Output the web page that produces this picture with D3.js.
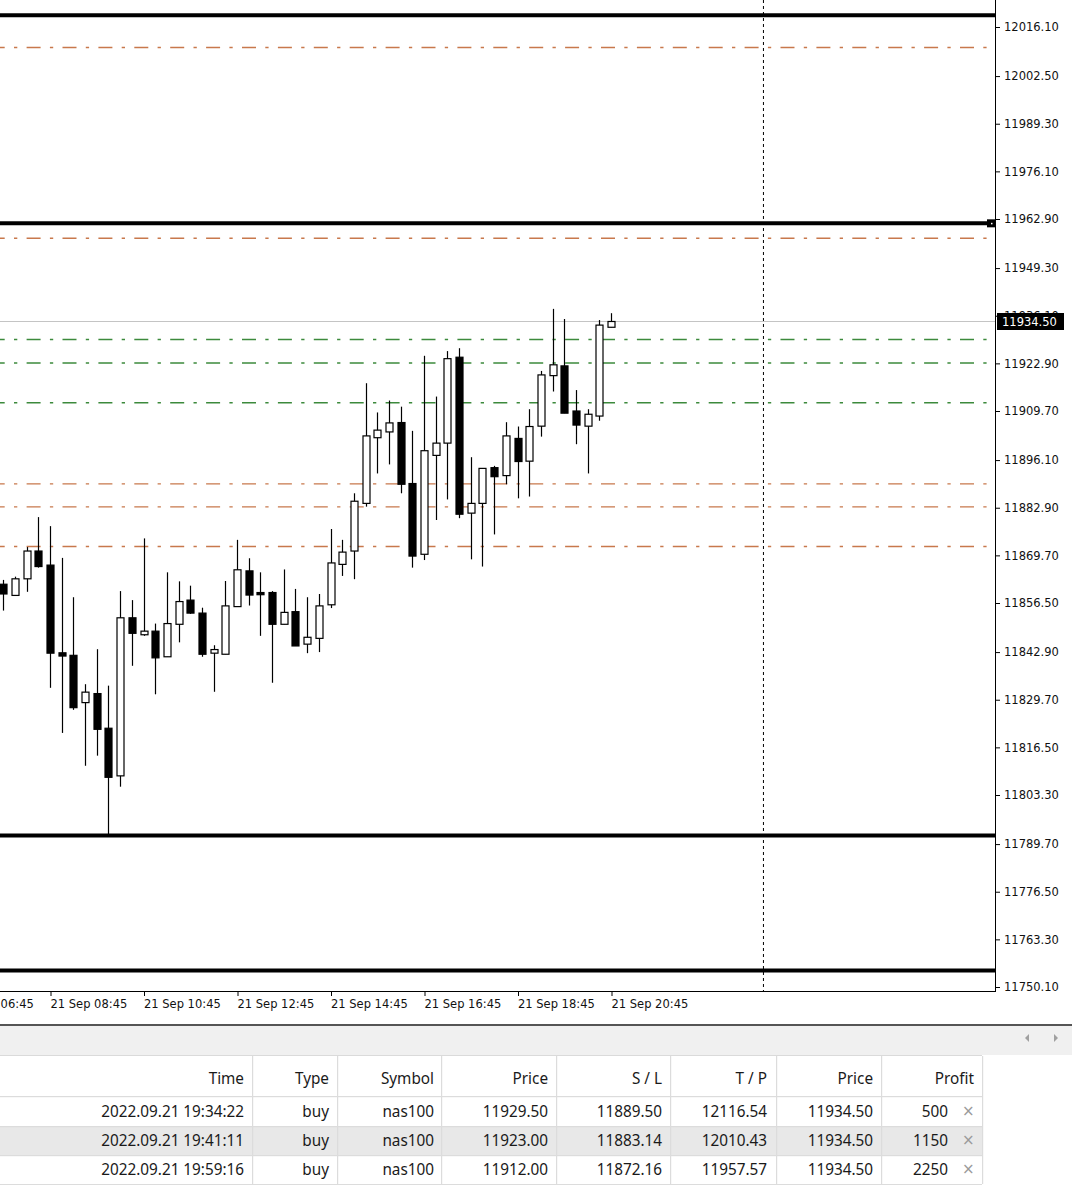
<!DOCTYPE html>
<html>
<head>
<meta charset="utf-8">
<script src="https://cdn.jsdelivr.net/npm/d3@7"></script>
<style>
	body { margin: 0; background: white; }
	svg text { font-family: "DejaVu Sans", sans-serif; }
</style>
</head>
<body>
<svg id="chart" width="1072" height="1185"></svg>
<script>
// M15 candles, 21 Sep
var candleTimes = ["07:45", "08:00", "08:15", "08:30", "08:45", "09:00", "09:15", "09:30", "09:45", "10:00",
	"10:15", "10:30", "10:45", "11:00", "11:15", "11:30", "11:45", "12:00", "12:15", "12:30",
	"12:45", "13:00", "13:15", "13:30", "13:45", "14:00", "14:15", "14:30", "14:45", "15:00",
	"15:15", "15:30", "15:45", "16:00", "16:15", "16:30", "16:45", "17:00", "17:15", "17:30",
	"17:45", "18:00", "18:15", "18:30", "18:45", "19:00", "19:15", "19:30", "19:45", "20:00",
	"20:15", "20:30", "20:45"];
var opens = [11861.7, 11858.6, 11863.2, 11870.9, 11867.0, 11842.7, 11842.0, 11828.9, 11831.4, 11821.8,
	11808.6, 11852.4, 11847.7, 11848.7, 11841.6, 11850.6, 11857.3, 11853.7, 11842.6, 11842.3,
	11855.5, 11865.4, 11859.4, 11859.4, 11850.6, 11854.1, 11845.1, 11846.7, 11856.0, 11867.2,
	11870.9, 11884.1, 11902.3, 11903.9, 11906.5, 11889.6, 11870.0, 11897.4, 11900.8, 11924.6,
	11881.4, 11884.1, 11894.0, 11891.8, 11902.1, 11895.8, 11905.5, 11919.5, 11922.2, 11909.7,
	11905.5, 11908.3, 11932.9];
var highs = [11862.9, 11863.8, 11872.0, 11880.3, 11877.8, 11869.0, 11858.1, 11834.0, 11843.7, 11833.6,
	11859.8, 11857.3, 11874.4, 11850.8, 11865.0, 11862.5, 11861.3, 11855.2, 11844.8, 11862.6,
	11874.0, 11868.9, 11865.0, 11859.8, 11865.8, 11860.4, 11858.1, 11859.0, 11877.0, 11874.0,
	11886.9, 11917.4, 11909.3, 11912.6, 11910.9, 11904.2, 11925.0, 11913.7, 11926.3, 11927.1,
	11896.9, 11893.8, 11894.5, 11906.6, 11905.4, 11910.2, 11920.8, 11938.0, 11935.2, 11915.5,
	11910.2, 11934.9, 11936.8];
var lows = [11854.4, 11858.6, 11859.6, 11866.3, 11833.0, 11820.5, 11826.9, 11811.4, 11814.2, 11791.9,
	11805.6, 11839.1, 11847.4, 11831.2, 11841.6, 11845.6, 11853.5, 11841.6, 11831.9, 11842.3,
	11855.5, 11855.8, 11847.4, 11834.4, 11850.6, 11844.6, 11842.6, 11842.9, 11855.1, 11864.0,
	11863.1, 11883.2, 11892.4, 11894.9, 11886.9, 11866.3, 11868.4, 11879.5, 11885.2, 11880.0,
	11868.6, 11866.6, 11875.5, 11889.4, 11885.5, 11886.0, 11902.6, 11915.1, 11909.1, 11900.5,
	11892.4, 11907.0, 11932.9];
var closes = [11859.0, 11863.2, 11870.9, 11866.6, 11842.6, 11841.8, 11827.5, 11831.8, 11821.5, 11808.2,
	11852.4, 11848.1, 11848.7, 11841.3, 11850.8, 11856.9, 11853.7, 11842.3, 11843.6, 11855.7,
	11865.7, 11858.7, 11858.8, 11850.6, 11853.9, 11844.6, 11847.0, 11855.7, 11867.6, 11870.6,
	11884.7, 11902.8, 11904.4, 11906.4, 11889.4, 11869.5, 11898.7, 11900.8, 11924.2, 11881.1,
	11884.1, 11893.8, 11891.5, 11902.8, 11895.7, 11905.4, 11919.7, 11922.5, 11909.1, 11905.8,
	11908.8, 11933.5, 11934.5];

var priceTicks = [12016.10, 12002.50, 11989.30, 11976.10, 11962.90, 11949.30, 11936.10, 11922.90,
	11909.70, 11896.10, 11882.90, 11869.70, 11856.50, 11842.90, 11829.70, 11816.50, 11803.30,
	11789.70, 11776.50, 11763.30, 11750.10];
var timeTicks = ["21 Sep 06:45", "21 Sep 08:45", "21 Sep 10:45", "21 Sep 12:45", "21 Sep 14:45",
	"21 Sep 16:45", "21 Sep 18:45", "21 Sep 20:45"];
var daySeparator = "22 Sep 00:00";
var levelLines = [12019.35, 11961.7, 11792.1, 11754.7];
var bidPrice = 11934.50;

// open trades
var tradeTimes = ["2022.09.21 19:34:22", "2022.09.21 19:41:11", "2022.09.21 19:59:16"];
var tradeTypes = ["buy", "buy", "buy"];
var tradeSymbols = ["nas100", "nas100", "nas100"];
var openPrices = [11929.50, 11923.00, 11912.00];
var stopLosses = [11889.50, 11883.14, 11872.16];
var takeProfits = [12116.54, 12010.43, 11957.57];
var currentPrices = [11934.50, 11934.50, 11934.50];
var profits = [500, 1150, 2250];
var headers = ["Time", "Type", "Symbol", "Price", "S / L", "T / P", "Price", "Profit"];

var svg = d3.select("#chart"),
	plotW = 996,
	plotH = 991;

var parseTime = d3.timeParse("%d %b %H:%M"),
	fmtTime = d3.timeFormat("%d %b %H:%M"),
	fmtPrice = d3.format(".2f");

var x = d3.scaleTime()
	.domain([parseTime("21 Sep 08:45"), parseTime("21 Sep 20:45")])
	.range([50, 611]);

var y = d3.scaleLinear()
	.domain([11750.1, 12016.1])
	.range([987, 27]);

svg.append("rect").attr("width", 1072).attr("height", 1185).attr("fill", "white");

svg.append("clipPath").attr("id", "plot-clip")
	.append("rect").attr("width", plotW).attr("height", plotH);

var plot = svg.append("g").attr("clip-path", "url(#plot-clip)");

// day separator
plot.append("line")
	.attr("x1", x(parseTime(daySeparator)) + 0.5)
	.attr("x2", x(parseTime(daySeparator)) + 0.5)
	.attr("y1", 0)
	.attr("y2", plotH)
	.attr("stroke", "#000")
	.attr("stroke-dasharray", "3,3");

// bid line
plot.append("line")
	.attr("x1", 0).attr("x2", plotW)
	.attr("y1", Math.round(y(bidPrice)) + 0.5)
	.attr("y2", Math.round(y(bidPrice)) + 0.5)
	.attr("stroke", "#c4c4c4");

function dashLines(values, color) {
	plot.selectAll(null)
		.data(values)
		.enter().append("line")
		.attr("x1", 0)
		.attr("x2", plotW)
		.attr("y1", function (d) { return y(d); })
		.attr("y2", function (d) { return y(d); })
		.attr("stroke", color)
		.attr("stroke-width", 1.4)
		.attr("stroke-dasharray", "14,9.3,3.3,9.3")
		.attr("stroke-dashoffset", 9.3);
}
dashLines(stopLosses, "#c8784c");
dashLines(takeProfits, "#c8784c");
dashLines(openPrices, "#3c8a3c");

// horizontal levels
plot.selectAll(null)
	.data(levelLines)
	.enter().append("line")
	.attr("x1", 0)
	.attr("x2", plotW)
	.attr("y1", function (d) { return y(d); })
	.attr("y2", function (d) { return y(d); })
	.attr("stroke", "#000")
	.attr("stroke-width", 4);

// candles
var candles = candleTimes.map(function (t, i) {
	return { t: parseTime("21 Sep " + t), o: opens[i], h: highs[i], l: lows[i], c: closes[i] };
});

var cg = plot.selectAll("g.candle")
	.data(candles)
	.enter().append("g")
	.attr("class", "candle")
	.attr("transform", function (d) { return "translate(" + Math.round(x(d.t)) + ",0)"; });

cg.append("line")
	.attr("x1", 0.5).attr("x2", 0.5)
	.attr("y1", function (d) { return y(d.h); })
	.attr("y2", function (d) { return y(d.l); })
	.attr("stroke", "#000")
	.attr("stroke-width", 1.2);

cg.append("rect")
	.attr("x", -3)
	.attr("width", 7)
	.attr("y", function (d) { return y(Math.max(d.o, d.c)); })
	.attr("height", function (d) { return Math.max(1, Math.abs(y(d.o) - y(d.c))); })
	.attr("fill", function (d) { return d.c >= d.o ? "#fff" : "#000"; })
	.attr("stroke", "#000")
	.attr("stroke-width", 1.2);

// selected level marker
svg.append("rect")
	.attr("x", 987).attr("y", y(levelLines[1]) - 4)
	.attr("width", 9).attr("height", 8)
	.attr("fill", "#000");
svg.append("rect")
	.attr("x", 991).attr("y", y(levelLines[1]) - 0.5)
	.attr("width", 1.5).attr("height", 1.5)
	.attr("fill", "#fff");

// frame
svg.append("line").attr("x1", plotW - 0.5).attr("x2", plotW - 0.5).attr("y1", 0).attr("y2", plotH)
	.attr("stroke", "#000");
svg.append("line").attr("x1", 0).attr("x2", plotW).attr("y1", plotH + 0.5).attr("y2", plotH + 0.5)
	.attr("stroke", "#000");

// price axis
var yAxis = svg.append("g")
	.attr("transform", "translate(" + plotW + ",0)")
	.call(d3.axisRight(y).tickValues(priceTicks).tickFormat(fmtPrice).tickSize(4).tickPadding(4));
yAxis.select(".domain").remove();
yAxis.selectAll("text")
	.attr("font-family", "DejaVu Sans")
	.attr("font-size", "11.5px")
	.attr("fill", "#111");

// bid label
svg.append("rect")
	.attr("x", 997).attr("y", y(bidPrice) - 8.5)
	.attr("width", 67).attr("height", 17)
	.attr("fill", "#000");
svg.append("text")
	.attr("x", 1002).attr("y", y(bidPrice) + 4.5)
	.attr("font-size", "11.5px")
	.attr("fill", "#fff")
	.text(fmtPrice(bidPrice));

// time axis
var xAxis = svg.append("g")
	.attr("transform", "translate(0," + plotH + ")")
	.call(d3.axisBottom(x).tickValues(timeTicks.map(parseTime)).tickFormat(fmtTime).tickSize(5).tickPadding(4));
xAxis.select(".domain").remove();
xAxis.selectAll(".tick line").attr("transform", "translate(0.5,0)");
xAxis.selectAll("text")
	.attr("text-anchor", "start")
	.attr("x", 0)
	.attr("y", 9)
	.attr("font-family", "DejaVu Sans")
	.attr("font-size", "11.5px")
	.attr("fill", "#111");

// toolbox strip
svg.append("rect").attr("x", 0).attr("y", 1024).attr("width", 1072).attr("height", 2).attr("fill", "#555");
svg.append("rect").attr("x", 0).attr("y", 1026).attr("width", 1072).attr("height", 29).attr("fill", "#f0f0f0");
svg.append("path").attr("d", "M1029,1034 L1025,1038 L1029,1042 Z").attr("fill", "#a0a0a0");
svg.append("path").attr("d", "M1054,1034 L1058,1038 L1054,1042 Z").attr("fill", "#a0a0a0");

// trades table
var colRight = [244, 329, 434, 548, 662, 767, 873, 974],
	colSep = [252, 337, 441, 556, 670, 776, 881, 982],
	rowTop = [1097, 1126, 1155],
	rowH = 29;

svg.append("rect").attr("x", 0).attr("y", 1055).attr("width", 982).attr("height", 1)
	.attr("fill", "#dadada");

var rows = tradeTimes.map(function (t, i) {
	return [t, tradeTypes[i], tradeSymbols[i], fmtPrice(openPrices[i]), fmtPrice(stopLosses[i]),
		fmtPrice(takeProfits[i]), fmtPrice(currentPrices[i]), String(profits[i])];
});

svg.selectAll("rect.row")
	.data(rows)
	.enter().append("rect")
	.attr("class", "row")
	.attr("x", 0)
	.attr("y", function (d, i) { return rowTop[i]; })
	.attr("width", 982)
	.attr("height", rowH)
	.attr("fill", function (d, i) { return i == 1 ? "#e8e8e8" : "#fff"; });

[1096].concat(rowTop.map(function (r) { return r + rowH; })).forEach(function (ly) {
	svg.append("rect").attr("x", 0).attr("y", ly).attr("width", 982).attr("height", 1.2)
		.attr("fill", "#dcdcdc");
});

colSep.forEach(function (cx) {
	svg.append("rect").attr("x", cx).attr("y", 1056).attr("width", 1.2).attr("height", 128)
		.attr("fill", "#dcdcdc");
});

function cellText(str, cx, cy) {
	svg.append("text")
		.attr("transform", "translate(" + cx + "," + cy + ") scale(0.9,1)")
		.attr("text-anchor", "end")
		.attr("font-size", "17px")
		.attr("fill", "#1a1a1a")
		.style("font-family", "'Noto Sans', sans-serif")
		.text(str);
}

headers.forEach(function (h, j) {
	cellText(h, colRight[j], 1084);
});

rows.forEach(function (r, i) {
	r.forEach(function (v, j) {
		var cx = j == 7 ? 948 : colRight[j];
		cellText(v, cx, rowTop[i] + 20);
	});
	svg.append("text")
		.attr("x", 962).attr("y", rowTop[i] + 19)
		.attr("font-size", "15px")
		.attr("fill", "#9a9a9a")
		.text("\u00d7");
});
</script>
</body>
</html>
